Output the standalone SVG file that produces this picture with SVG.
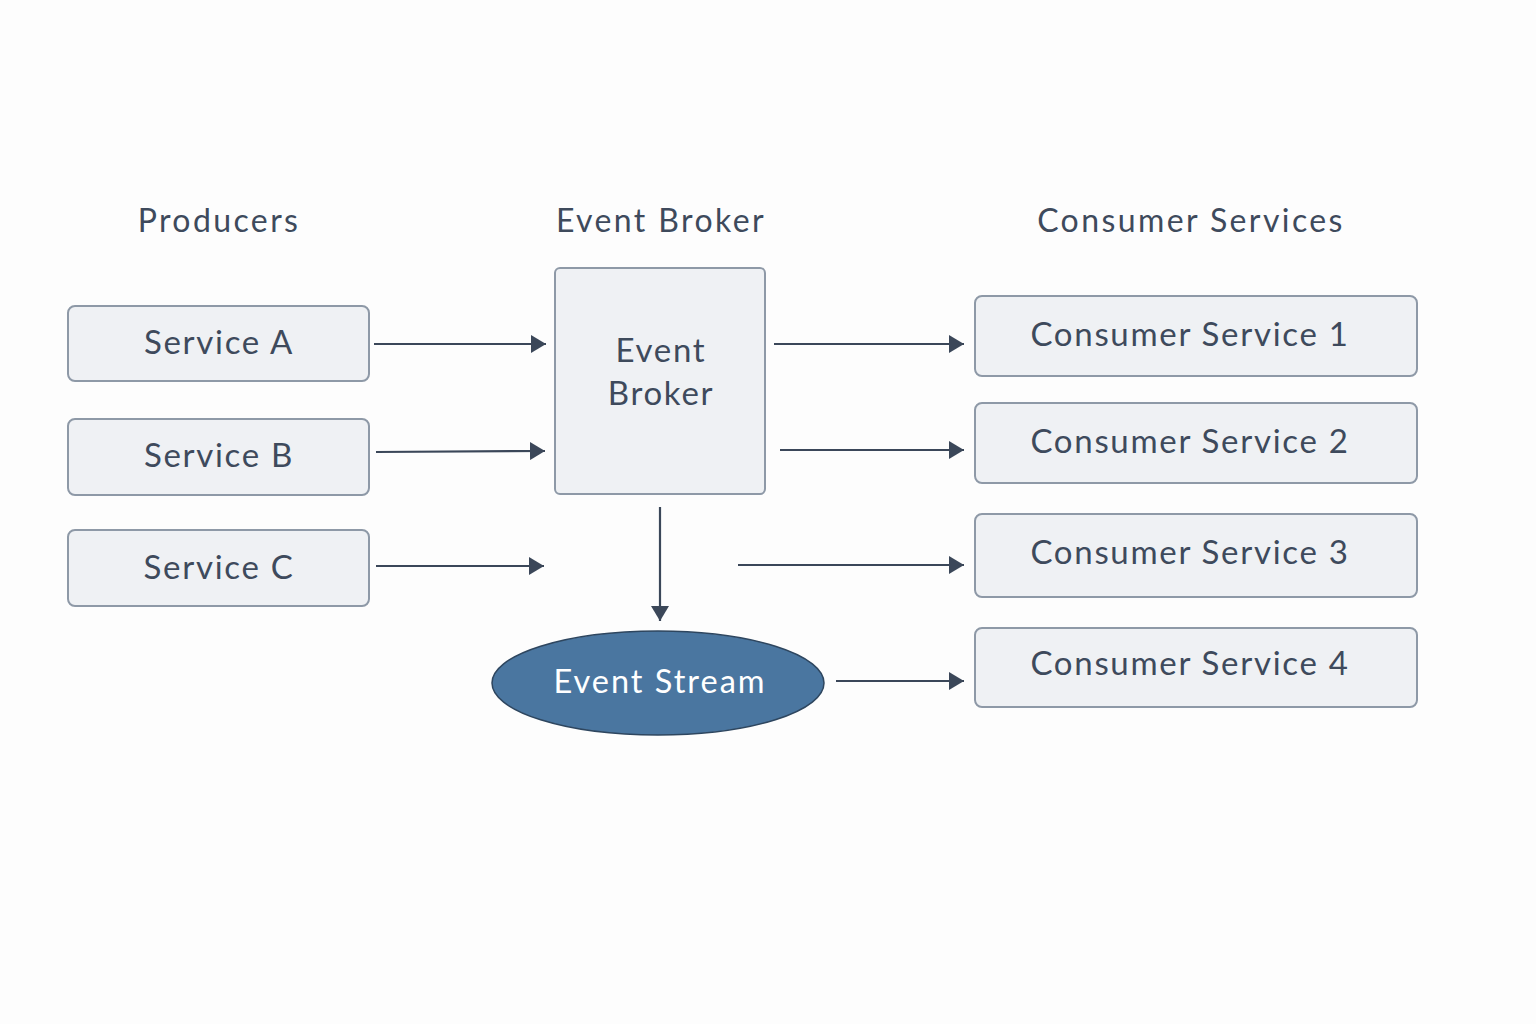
<svg xmlns="http://www.w3.org/2000/svg" width="1536" height="1024" viewBox="0 0 1536 1024">
<defs>
<marker id="ah" viewBox="0 0 15 18" refX="15" refY="9" markerWidth="15" markerHeight="18" markerUnits="userSpaceOnUse" orient="auto">
<path d="M0,0 L15,9 L0,18 Z" fill="#3b4759"/>
</marker>
</defs>
<style>
.bg{fill:#fdfdfd}
.box{fill:#eff1f4;stroke:#8e99a7;stroke-width:2}
.head{font-family:Lato,"Open Sans","Liberation Sans",sans-serif;font-size:32px;fill:#3e4a5c;text-anchor:middle;letter-spacing:2.4px}
.lbl{font-family:Lato,"Open Sans","Liberation Sans",sans-serif;font-size:33px;fill:#3e4a5c;text-anchor:middle;letter-spacing:1.7px}
.wlbl{font-family:Lato,"Open Sans","Liberation Sans",sans-serif;font-size:32.5px;fill:#ffffff;text-anchor:middle;letter-spacing:2px}
.con{stroke:#3b4759;stroke-width:2.2;fill:none;marker-end:url(#ah)}
</style>
<rect class="bg" x="0" y="0" width="1536" height="1024"/>
<g id="headings">
<text class="head" x="219" y="232">Producers</text>
<text class="head" x="661" y="232">Event Broker</text>
<text class="head" x="1191" y="232">Consumer Services</text>
</g>
<g id="service-a"><rect class="box" x="68" y="306" width="301" height="75" rx="7"/><text class="lbl" x="219" y="354">Service A</text></g>
<g id="service-b"><rect class="box" x="68" y="419" width="301" height="76" rx="7"/><text class="lbl" x="219" y="467">Service B</text></g>
<g id="service-c"><rect class="box" x="68" y="530" width="301" height="76" rx="7"/><text class="lbl" x="219" y="579">Service C</text></g>
<g id="event-broker"><rect class="box" x="555" y="268" width="210" height="226" rx="5"/><text class="lbl" x="661" y="362">Event</text><text class="lbl" x="661" y="405">Broker</text></g>
<g id="event-stream"><ellipse cx="658" cy="683" rx="166" ry="52" fill="#4a76a0" stroke="#2e465f" stroke-width="1.5"/><text class="wlbl" x="660" y="693">Event Stream</text></g>
<g id="consumer-1"><rect class="box" x="975" y="296" width="442" height="80" rx="7"/><text class="lbl" x="1190" y="346">Consumer Service 1</text></g>
<g id="consumer-2"><rect class="box" x="975" y="403" width="442" height="80" rx="7"/><text class="lbl" x="1190" y="453">Consumer Service 2</text></g>
<g id="consumer-3"><rect class="box" x="975" y="514" width="442" height="83" rx="7"/><text class="lbl" x="1190" y="564">Consumer Service 3</text></g>
<g id="consumer-4"><rect class="box" x="975" y="628" width="442" height="79" rx="7"/><text class="lbl" x="1190" y="675">Consumer Service 4</text></g>
<g id="connectors">
<line class="con" x1="374" y1="344" x2="546" y2="344"/>
<line class="con" x1="376" y1="452" x2="545" y2="451"/>
<line class="con" x1="376" y1="566" x2="544" y2="566"/>
<line class="con" x1="774" y1="344" x2="964" y2="344"/>
<line class="con" x1="780" y1="450" x2="964" y2="450"/>
<line class="con" x1="738" y1="565" x2="964" y2="565"/>
<line class="con" x1="836" y1="681" x2="964" y2="681"/>
<line class="con" x1="660" y1="507" x2="660" y2="621"/>
</g>
</svg>
